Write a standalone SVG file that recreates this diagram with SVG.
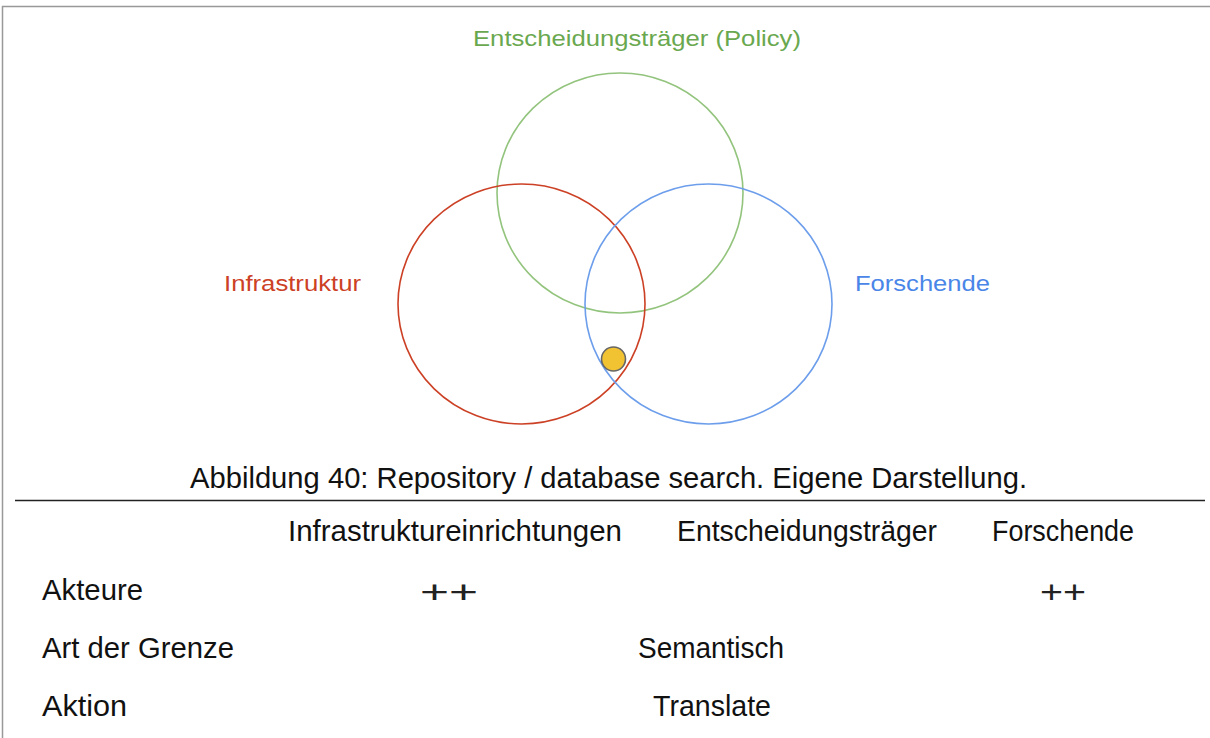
<svg xmlns="http://www.w3.org/2000/svg" width="1210" height="738" viewBox="0 0 1210 738">
<style>
.lbl{font-family:"Liberation Sans",Arial,sans-serif;font-size:22px}
.tx{font-family:"Liberation Sans",Arial,sans-serif;font-size:30px;fill:#111}
.pl{font-family:"Liberation Sans",Arial,sans-serif;font-size:32px;fill:#222}
.c{fill:none;stroke-width:1.6}
</style>
<rect width="1210" height="738" fill="#fff"/>
<path d="M2.5,738 V6.5 H1210" fill="none" stroke="#999" stroke-width="1.5"/>
<g id="policy">
<ellipse class="c" cx="620" cy="193" rx="123" ry="120" stroke="#93c47d"/>
<text class="lbl" x="637" y="46" text-anchor="middle" fill="#6aa84f" textLength="328" lengthAdjust="spacingAndGlyphs">Entscheidungsträger (Policy)</text>
</g>
<g id="infrastruktur">
<ellipse class="c" cx="521.5" cy="304" rx="123.5" ry="120" stroke="#cc4125"/>
<text class="lbl" x="292.5" y="291" text-anchor="middle" fill="#cc4125" textLength="137" lengthAdjust="spacingAndGlyphs">Infrastruktur</text>
</g>
<g id="forschende">
<ellipse class="c" cx="708.5" cy="304" rx="123.5" ry="120" stroke="#6d9eeb"/>
<text class="lbl" x="922.5" y="291" text-anchor="middle" fill="#4a86e8" textLength="135" lengthAdjust="spacingAndGlyphs">Forschende</text>
</g>
<g id="dot">
<circle cx="613.5" cy="359" r="12" fill="#f1c232" stroke="#666" stroke-width="1.6"/>
</g>
<g id="caption">
<text class="tx" x="190" y="488" textLength="837" lengthAdjust="spacingAndGlyphs">Abbildung 40: Repository / database search. Eigene Darstellung.</text>
</g>
<line x1="15" y1="500.5" x2="1205" y2="500.5" stroke="#222" stroke-width="1.3"/>
<g id="table">
<text class="tx" x="288" y="541" textLength="334" lengthAdjust="spacingAndGlyphs">Infrastruktureinrichtungen</text>
<text class="tx" x="677" y="541" textLength="260" lengthAdjust="spacingAndGlyphs">Entscheidungsträger</text>
<text class="tx" x="992" y="541" textLength="142" lengthAdjust="spacingAndGlyphs">Forschende</text>
<text class="tx" x="42" y="600" textLength="101" lengthAdjust="spacingAndGlyphs">Akteure</text>
<text class="pl" x="449" y="603" text-anchor="middle" textLength="58" lengthAdjust="spacingAndGlyphs">++</text>
<text class="pl" x="1063" y="603" text-anchor="middle" textLength="46" lengthAdjust="spacingAndGlyphs">++</text>
<text class="tx" x="42" y="658" textLength="192" lengthAdjust="spacingAndGlyphs">Art der Grenze</text>
<text class="tx" x="638" y="658" textLength="146" lengthAdjust="spacingAndGlyphs">Semantisch</text>
<text class="tx" x="42" y="716" textLength="85" lengthAdjust="spacingAndGlyphs">Aktion</text>
<text class="tx" x="653" y="716" textLength="118" lengthAdjust="spacingAndGlyphs">Translate</text>
</g>
</svg>
